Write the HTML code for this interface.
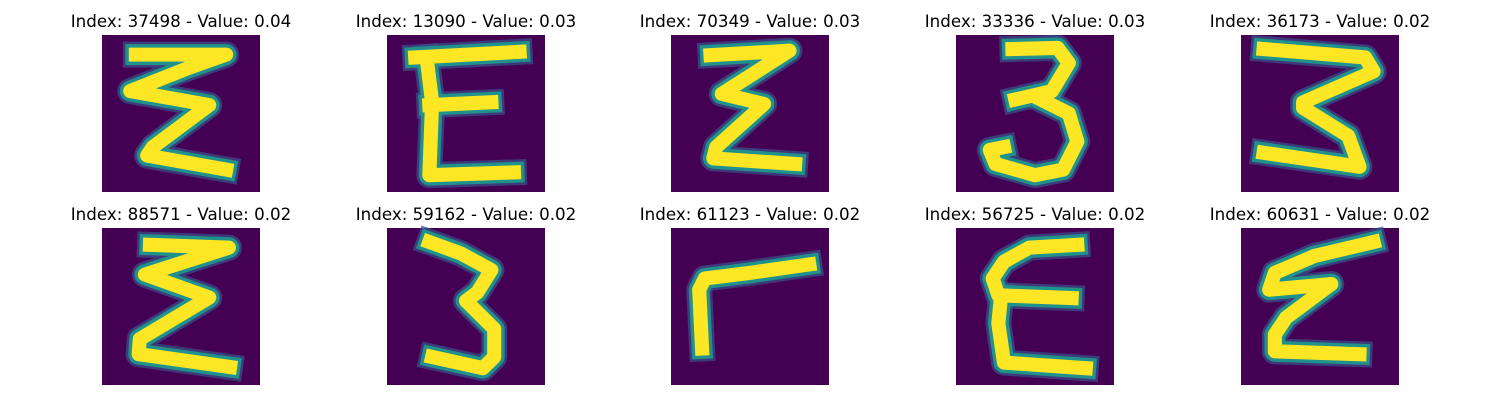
<!DOCTYPE html>
<html><head><meta charset="utf-8"><style>
html,body{margin:0;padding:0;background:#fff;}
svg{display:block;}
text{font-family:"DejaVu Sans","Liberation Sans",sans-serif;font-size:16.7px;fill:#000;}
</style></head><body>
<svg id="fig" width="1500" height="400" viewBox="0 0 1500 400"></svg>
<script>
const indices = [37498, 13090, 70349, 33336, 36173, 88571, 59162, 61123, 56725, 60631];
const values = ["0.04","0.03","0.03","0.03","0.02","0.02","0.02","0.02","0.02","0.02"];
const strokes = [
 [[[6,3.5],[22,3.5],[15,6],[5,10],[19,12.5],[9,20],[8,21.5],[22,24]]],
 [[[5,4],[23.5,3]],[[7,4],[8,12],[7.5,25],[22.5,24.5]],[[7.5,12.5],[18.5,12]]],
 [[[7,3.6],[21,2.8],[9,10.5],[16.5,12.3],[8,20],[7.5,22],[22,23]]],
 [[[10,2.5],[18,2.3],[20,5],[17,10],[10.5,11.5]],[[15,11.5],[20,14],[21.5,19],[19,24],[14,25],[7,23],[6,20.5],[8.5,20]]],
 [[[4,2.5],[22,4],[23.5,6.5],[11,12],[11,13],[19,18],[21,23.5],[4,21]]],
 [[[8.5,3],[22.5,3.5],[7.6,8.3],[19,12.4],[6.7,19.8],[6.5,22.5],[22.7,24.8]]],
 [[[7.5,2.5],[13,4.5],[18.5,7.5],[16,11.5],[14,13],[19,18],[19,23],[17,25],[8,23]]],
 [[[24.5,6.5],[14,8],[6,9],[5,11],[5.5,21.5]]],
 [[[21.5,3],[13,3.5],[8.5,6],[6.5,9],[7.5,12],[20.5,12.5]],[[8,12],[7.5,17],[8.5,24],[23,25]]],
 [[[23.5,2.5],[13,5],[6,8],[5,11],[16,10],[8,16],[6,19],[6,22],[21,22.5]]]
];
const NS = "http://www.w3.org/2000/svg";
const svg = document.getElementById("fig");
const colX = [102, 387, 671, 956, 1241];
const rowY = [35, 228];
const W = 158, H = 157;
function sx(x0, v){ return x0 + v / 28 * W; }
function sy(y0, v){ return y0 + v / 28 * H; }
indices.forEach((idx, i) => {
  const x0 = colX[i % 5], y0 = rowY[Math.floor(i / 5)];
  const g = document.createElementNS(NS, "g");
  
  
  const t = document.createElementNS(NS, "text");
  t.setAttribute("x", x0 + W / 2);
  t.setAttribute("y", y0 - 8);
  t.setAttribute("text-anchor", "middle");
  t.textContent = "Index: " + idx + " - Value: " + values[i];
  
  
  g.appendChild(t);
  const r = document.createElementNS(NS, "rect");
  r.setAttribute("x", x0); r.setAttribute("y", y0);
  r.setAttribute("width", W); r.setAttribute("height", H);
  r.setAttribute("fill", "#440154");
  
  
  g.appendChild(r);
  const layers = [["#3b528b", 4.6, 0.7], ["#21918c", 3.7, 1], ["#fde725", 2.5, 1]];
  layers.forEach(([col, w, op]) => {
    strokes[i].forEach(s => {
      const p = document.createElementNS(NS, "polyline");
      p.setAttribute("points", s.map(q => sx(x0, q[0]) + "," + sy(y0, q[1])).join(" "));
      p.setAttribute("fill", "none");
      p.setAttribute("stroke", col);
      p.setAttribute("stroke-opacity", op);
      p.setAttribute("stroke-width", w / 28 * W);
      p.setAttribute("stroke-linecap", "square");
      p.setAttribute("stroke-linejoin", "round");
      
      
      g.appendChild(p);
    });
  });
  svg.appendChild(g);
});
</script>
</body></html>
